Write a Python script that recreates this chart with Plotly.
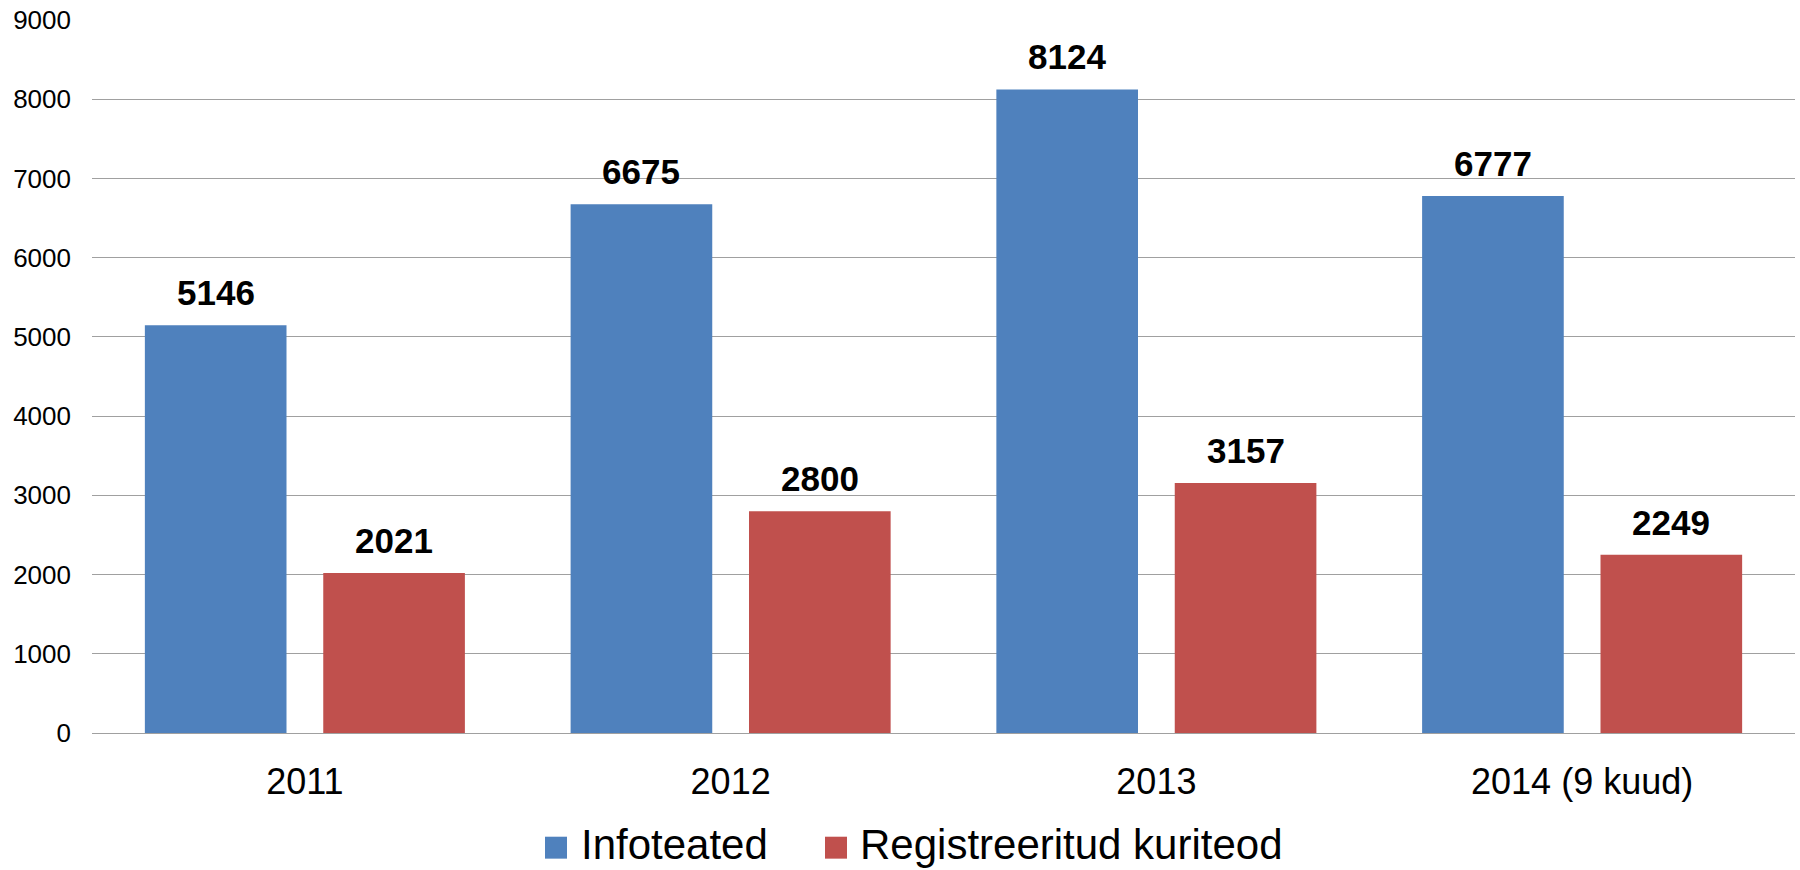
import plotly.graph_objects as go

categories = ["2011", "2012", "2013", "2014 (9 kuud)"]
series_names = ["Infoteated", "Registreeritud kuriteod"]
infoteated = [5146, 6675, 8124, 6777]
kuriteod = [2021, 2800, 3157, 2249]
y_ticks = [0, 1000, 2000, 3000, 4000, 5000, 6000, 7000, 8000, 9000]

colors = ["#4F81BD", "#C0504D"]
series_values = [infoteated, kuriteod]

W, H = 1800, 870
ML, MR, MT, MB = 92, 5, 18, 137
PW, PH = W - ML - MR, H - MT - MB
FONT = "Liberation Sans, Arial, sans-serif"

BARGAP = 0.162
BARGROUPGAP = 0.206

fig = go.Figure()
for name, vals, col in zip(series_names, series_values, colors):
    fig.add_trace(go.Bar(
        x=categories, y=vals, name=name,
        marker=dict(color=col, line=dict(width=0)),
        showlegend=False,
    ))

# data labels
offset = (1 - BARGAP) / 4
for si, vals in enumerate(series_values):
    dx = -offset if si == 0 else offset
    for ci, v in enumerate(vals):
        fig.add_annotation(
            x=ci + dx, y=v, xref="x", yref="y",
            text="<b>%d</b>" % v, showarrow=False,
            yanchor="bottom", xanchor="center", yshift=11,
            font=dict(family=FONT, size=35, color="#000000"),
        )

def px_x(p):
    return (p - ML) / PW

def px_y(p):
    return (H - MB - p) / PH

# custom legend
legend_items = [
    (series_names[0], colors[0], 545, 579),
    (series_names[1], colors[1], 825, 858),
]
for name, col, sq_x, tx in legend_items:
    fig.add_shape(
        type="rect", xref="paper", yref="paper",
        x0=px_x(sq_x), x1=px_x(sq_x + 22),
        y0=px_y(837), y1=px_y(859),
        fillcolor=col, line=dict(width=0),
    )
    fig.add_annotation(
        x=px_x(tx), y=px_y(845), xref="paper", yref="paper",
        text=name, showarrow=False, xanchor="left", yanchor="middle",
        font=dict(family=FONT, size=42, color="#000000"),
    )

fig.update_layout(
    width=W, height=H,
    margin=dict(l=ML, r=MR, t=MT, b=MB, pad=0),
    paper_bgcolor="white", plot_bgcolor="white",
    barmode="group", bargap=BARGAP, bargroupgap=BARGROUPGAP,
    font=dict(family=FONT, color="#000000"),
    showlegend=False,
)
fig.update_xaxes(
    type="category",
    tickfont=dict(family=FONT, size=36, color="#000000"),
    showgrid=False, showline=False, ticks="",
    ticklabelstandoff=24,
)
fig.update_yaxes(
    range=[0, 9000], tickvals=y_ticks,
    tickfont=dict(family=FONT, size=26, color="#000000"),
    showgrid=True, gridcolor="#A0A0A0", gridwidth=1,
    zeroline=True, zerolinecolor="#A0A0A0", zerolinewidth=1,
    showline=False, ticks="",
    ticklabelstandoff=20,
)

fig.write_html("out.html", config={"displayModeBar": False},
               post_script="document.body.style.margin='0';")
